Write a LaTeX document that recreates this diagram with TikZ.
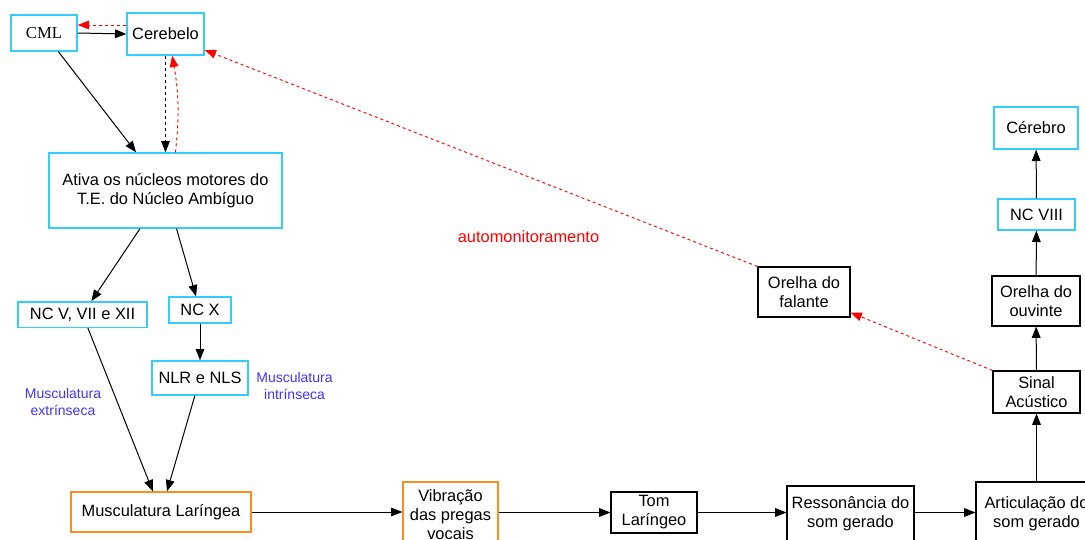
\documentclass[tikz,border=0pt]{standalone}
\usepackage{fontspec}
\setmainfont{Liberation Sans}
\newfontfamily\timesfont{Liberation Serif}
\usetikzlibrary{arrows.meta}

\definecolor{boxcyan}{RGB}{51,204,255}
\definecolor{boxorange}{RGB}{255,140,26}
\definecolor{notablue}{RGB}{64,51,255}

\tikzset{every picture/.style={line width=0.75pt}}
\tikzset{
  cyanbox/.style={draw=boxcyan, line width=1pt, inner sep=0pt, align=center, font=\fontsize{12.3}{14.25}\selectfont},
  orangebox/.style={draw=boxorange, line width=1pt, inner sep=0pt, align=center, font=\fontsize{12.3}{14.25}\selectfont},
  blackbox/.style={draw=black, line width=0.8pt, inner sep=0pt, align=center, font=\fontsize{12.3}{14.25}\selectfont},
  flow/.style={-{Triangle[length=8.5pt,width=6.5pt]}},
  feedback/.style={red, line width=0.7pt, dash pattern=on 2.25pt off 2.25pt, -{Triangle[length=8.5pt,width=6.5pt]}},
  nota/.style={text=notablue, align=center, inner sep=0pt, font=\fontsize{10.5}{12.75}\selectfont}
}

\begin{document}
\begin{tikzpicture}[x=0.75pt,y=0.75pt,yscale=-1,xscale=1]
\useasboundingbox (0,0) rectangle (1085,539);
\clip (0,0) rectangle (1085,539);

%Shape: Rectangle [CML]
\node [cyanbox, font=\timesfont\fontsize{12.5}{14.25}\selectfont, minimum width=49.5pt, minimum height=27pt] (cml) at (44,33) {CML};
%Shape: Rectangle [Cerebelo]
\node [cyanbox, minimum width=57.75pt, minimum height=31.5pt] (cerebelo) at (165.5,34) {Cerebelo};
%Shape: Rectangle [Ativa]
\node [cyanbox, minimum width=174.75pt, minimum height=56.25pt] (ativa) at (165.5,190.5) {Ativa os núcleos motores do\\T.E. do Núcleo Ambíguo};
%Shape: Rectangle [NC V, VII e XII]
\node [cyanbox, minimum width=96.75pt, minimum height=19pt] (ncv) at (82.5,314.5) {NC V, VII e XII};
%Shape: Rectangle [NC X]
\node [cyanbox, minimum width=46.5pt, minimum height=19.5pt] (ncx) at (200,310) {NC X};
%Shape: Rectangle [NLR e NLS]
\node [cyanbox, minimum width=72pt, minimum height=25.5pt] (nlr) at (200,378) {NLR e NLS};
%Shape: Rectangle [Musculatura Laringea]
\node [orangebox, minimum width=135pt, minimum height=30pt] (musc) at (161,512) {Musculatura Laríngea};
%Shape: Rectangle [Vibracao]
\node [orangebox, minimum width=71.25pt, minimum height=49.5pt] (vib) at (450.5,515) {Vibração\\das pregas\\vocais};
%Shape: Rectangle [Tom]
\node [blackbox, minimum width=64.5pt, minimum height=30.75pt] (tom) at (654,512.5) {Tom\\Laríngeo};
%Shape: Rectangle [Ressonancia]
\node [blackbox, minimum width=95.25pt, minimum height=42pt] (resson) at (850.5,514) {Ressonância do\\som gerado};
%Shape: Rectangle [Articulacao]
\node [blackbox, minimum width=90.75pt, minimum height=48pt] (artic) at (1036.5,514) {Articulação do\\som gerado};
%Shape: Rectangle [Sinal]
\node [blackbox, minimum width=65.25pt, minimum height=31.5pt] (sinal) at (1036.5,392) {Sinal\\Acústico};
%Shape: Rectangle [Orelha do ouvinte]
\node [blackbox, minimum width=66pt, minimum height=37.5pt] (ouvinte) at (1036,301) {Orelha do\\ouvinte};
%Shape: Rectangle [Orelha do falante]
\node [blackbox, minimum width=69pt, minimum height=37.5pt] (falante) at (804,292) {Orelha do\\falante};
%Shape: Rectangle [NC VIII]
\node [cyanbox, minimum width=57.75pt, minimum height=23.25pt] (ncviii) at (1036.5,214.5) {NC VIII};
%Shape: Rectangle [Cerebro]
\node [cyanbox, minimum width=63pt, minimum height=31.5pt] (cerebro) at (1036,128) {Cérebro};

% Text Node
\node [nota] (extr) at (63,401.5) {Musculatura\\extrínseca};
% Text Node
\node [nota] (intr) at (294.5,385.5) {Musculatura\\intrínseca};
% Text Node
\node [text=red, inner sep=0pt, font=\fontsize{12.3}{14.25}\selectfont] (auto) at (528.5,237) {automonitoramento};

%Straight Lines
\draw [flow] (cml.east) -- (cerebelo.west);
\draw [flow] (cml) -- (ativa);
\draw [flow, dash pattern=on 2.25pt off 2.25pt] (cerebelo.south) -- (ativa.north);
\draw [flow] (ativa) -- (ncv);
\draw [flow] (ativa) -- (ncx);
\draw [flow] (ncx) -- (nlr);
\draw [flow] (ncv) -- (musc);
\draw [flow] (nlr) -- (musc);
\draw [flow] (musc) -- (musc -| vib.west);
\draw [flow] (vib.east |- tom) -- (tom);
\draw [flow] (tom) -- (tom -| resson.west);
\draw [flow] (resson.east |- tom) -- (tom -| artic.west);
\draw [flow] (artic.north -| sinal) -- (sinal);
\draw [flow] (sinal) -- (ouvinte);
\draw [flow] (ouvinte) -- (ncviii);
\draw [flow] (ncviii) -- (cerebro);

%Dashed feedback
\draw [feedback] ([yshift=-6.75pt]cerebelo.west) -- ([yshift=-6pt]cml.east);
\draw [feedback] ([xshift=7.5pt]ativa.north) to [bend left=8] ([xshift=5pt]cerebelo.south);
\draw [feedback] (falante.north west) -- ([yshift=12pt]cerebelo.east);
\draw [feedback] (sinal.north west) -- ([yshift=-3.75pt]falante.south east);

\end{tikzpicture}
\end{document}
